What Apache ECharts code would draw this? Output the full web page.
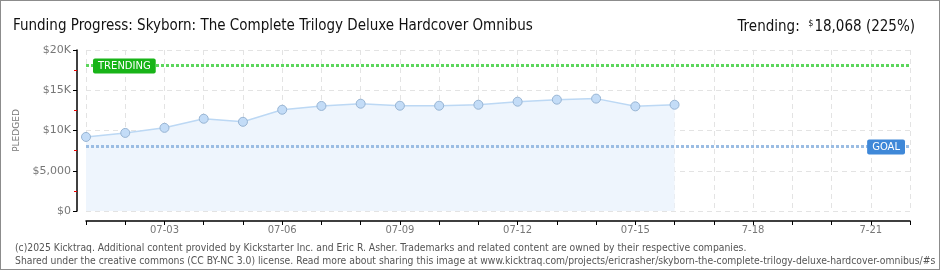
<!DOCTYPE html>
<html>
<head>
<meta charset="utf-8">
<script src="https://cdn.jsdelivr.net/npm/echarts@6/dist/echarts.min.js"></script>
<style>
  html, body { margin: 0; padding: 0; background: #fff; }
  #wrap { width: 938px; height: 268px; border: 1px solid #8c8c8c; position: relative; }
  #chart { width: 938px; height: 268px; }
</style>
</head>
<body>
<div id="wrap"><div id="chart"></div></div>
<script>
// days of the campaign shown on the x axis
var days = ['07-01','07-02','07-03','07-04','07-05','07-06','07-07','07-08','07-09','07-10','07-11',
            '07-12','07-13','07-14','07-15','07-16','7-17','7-18','7-19','7-20','7-21','7-22'];
// pledged per day
var pledged = [9200, 9700, 10330, 11460, 11080, 12580, 13050, 13330, 13080, 13080, 13200,
               13580, 13830, 13960, 13000, 13200];
var trendingValue = 18068;
var goalValue = 8000;

var yLabel = function (v) {
    if (v >= 10000) return '$' + (v / 1000) + 'K';
    return '$' + v.toLocaleString('en-US');
};

var chart = echarts.init(document.getElementById('chart'));
var axisFont = 'DejaVu Sans';
var narrow = '"DejaVu Sans Condensed", "Liberation Sans", sans-serif';
var option = {
    animation: false,
    title: [
        {text: 'Funding Progress: Skyborn: The Complete Trilogy Deluxe Hardcover Omnibus', left: 7, top: 13,
         textStyle: {fontFamily: narrow, fontWeight: 'normal', fontSize: 15, color: '#111'}},
        {text: 'Trending:  {s|$}18,068 (225%)', right: 19, top: 13,
         textStyle: {fontFamily: narrow, fontWeight: 'normal', fontSize: 15, color: '#111',
            rich: {s: {fontSize: 9, verticalAlign: 'top', color: '#111', fontFamily: narrow, padding: [0, 1, 8, 0]}}}},
        {text: '(c)2025 Kicktraq. Additional content provided by Kickstarter Inc. and Eric R. Asher. Trademarks and related content are owned by their respective companies.\nShared under the creative commons (CC BY-NC 3.0) license. Read more about sharing this image at www.kicktraq.com/projects/ericrasher/skyborn-the-complete-trilogy-deluxe-hardcover-omnibus/#s',
         left: 9, top: 236,
         textStyle: {fontFamily: narrow, fontWeight: 'normal', fontSize: 10.3, color: '#555', lineHeight: 13}}
    ],
    grid: {left: 85, right: 29, top: 49, bottom: 58},
    xAxis: {
        type: 'category',
        data: days,
        boundaryGap: false,
        offset: 10,
        axisLine: {onZero: false, lineStyle: {color: '#000', width: 1.5}},
        axisTick: {show: true, length: 4, interval: 0, lineStyle: {color: '#000'}},
        axisLabel: {interval: function (i) { return i % 3 === 2; }, color: '#777', fontSize: 10, fontFamily: axisFont, margin: 4},
        splitLine: {show: true, interval: 0, lineStyle: {color: '#e3e3e3', type: [5, 4]}}
    },
    yAxis: {
        type: 'value',
        min: 0, max: 20000, interval: 5000,
        offset: 9,
        name: 'PLEDGED',
        nameLocation: 'middle',
        nameGap: 50,
        nameTextStyle: {color: '#777', fontSize: 9, fontFamily: axisFont, letterSpacing: 1},
        axisLine: {show: true, lineStyle: {color: '#000', width: 1.5}},
        axisTick: {show: true, length: 4, lineStyle: {color: '#000'}},
        minorTick: {show: true, splitNumber: 2, length: 3, lineStyle: {color: '#e00'}},
        axisLabel: {formatter: yLabel, color: '#777', fontSize: 11, fontFamily: axisFont, margin: 6},
        splitLine: {show: true, lineStyle: {color: '#e3e3e3', type: [5, 4]}}
    },
    series: [{
        type: 'line',
        data: pledged,
        symbol: 'circle',
        symbolSize: 9,
        itemStyle: {color: '#c3dcf7', borderColor: '#97b4d3', borderWidth: 1},
        lineStyle: {color: '#bcd8f4', width: 1.5},
        areaStyle: {color: '#eef5fd', opacity: 1},
        markLine: {
            silent: true,
            symbol: 'none',
            data: [
                {yAxis: trendingValue,
                 lineStyle: {color: '#5cd65c', width: 3, type: [3, 2]},
                 label: {show: true, formatter: 'TRENDING', position: 'insideStartTop', distance: 0, offset: [7, 8],
                         backgroundColor: '#18b418', color: '#fff', fontSize: 10, fontFamily: axisFont,
                         padding: [3, 5, 2, 5], borderRadius: 2}},
                {yAxis: goalValue,
                 lineStyle: {color: '#9bbde3', width: 3, type: [3, 2]},
                 label: {show: true, formatter: 'GOAL', position: 'insideEndTop', distance: 0, offset: [-5, 8],
                         backgroundColor: '#3f88d8', color: '#fff', fontSize: 10, fontFamily: axisFont,
                         padding: [3, 5, 2, 5], borderRadius: 2}}
            ]
        }
    }]
};
chart.setOption(option);
</script>
</body>
</html>
